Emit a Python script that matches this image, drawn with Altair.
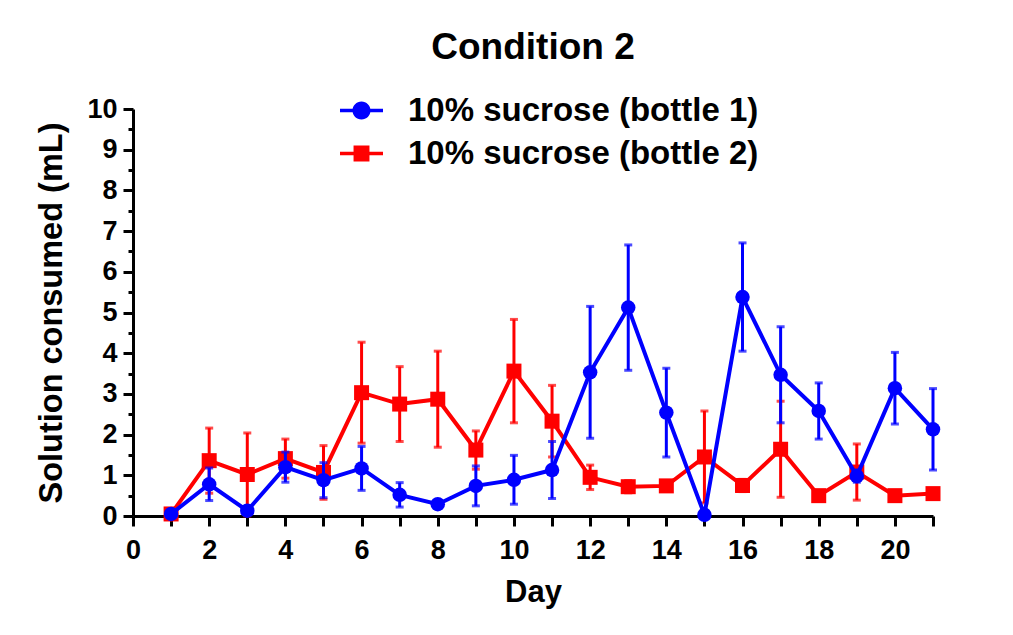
import altair as alt
import pandas as pd

days = list(range(1, 22))
series_names = ["10% sucrose (bottle 1)", "10% sucrose (bottle 2)"]
colors = ["#0000ff", "#ff0000"]

b1_mean = [0.05, 0.78, 0.13, 1.20, 0.88, 1.17, 0.52, 0.29, 0.74, 0.89, 1.13,
           3.53, 5.12, 2.54, 0.03, 5.38, 3.47, 2.58, 0.98, 3.14, 2.13]
b1_sem = [0.03, 0.40, 0.05, 0.37, 0.43, 0.54, 0.30, 0.05, 0.49, 0.60, 0.70,
          1.62, 1.54, 1.09, 0.02, 1.33, 1.18, 0.69, 0.15, 0.88, 1.00]
b2_mean = [0.05, 1.36, 1.02, 1.41, 1.07, 3.03, 2.75, 2.87, 1.62, 3.56, 2.33,
           0.95, 0.72, 0.74, 1.45, 0.75, 1.64, 0.50, 1.08, 0.50, 0.55]
b2_sem = [0.03, 0.80, 1.02, 0.48, 0.66, 1.24, 0.92, 1.18, 0.47, 1.27, 0.88,
          0.30, 0.15, 0.08, 1.13, 0.15, 1.18, 0.05, 0.69, 0.05, 0.06]

x_ticks = list(range(0, 22))
y_ticks = [i / 2 for i in range(0, 21)]

rows = []
for name, means, sems in [(series_names[0], b1_mean, b1_sem),
                          (series_names[1], b2_mean, b2_sem)]:
    for d, m, s in zip(days, means, sems):
        rows.append({"day": d, "mean": m, "lo": max(m - s, 0.0), "hi": m + s, "series": name})
df = pd.DataFrame(rows)

FONT = "Liberation Sans, Arial, Helvetica, sans-serif"

x_axis = alt.Axis(values=x_ticks, labelExpr="datum.value % 2 === 0 ? format(datum.value, 'd') : ''",
                  labelFont=FONT, labelFontSize=27, labelFontWeight="bold", labelColor="black",
                  labelPadding=11, labelFlush=False, labelOverlap=False,
                  tickSize=10, tickWidth=3, tickColor="black",
                  domainWidth=3, domainColor="black", grid=False,
                  titleFont=FONT, titleFontSize=31, titleFontWeight="bold", titleColor="black",
                  titlePadding=14)
y_axis = alt.Axis(values=y_ticks, labelExpr="datum.value % 1 === 0 ? format(datum.value, 'd') : ''",
                  labelFont=FONT, labelFontSize=27, labelFontWeight="bold", labelColor="black",
                  labelPadding=6, labelFlush=False, labelOverlap=False,
                  tickSize={"condition": {"test": "datum.value % 1 === 0", "value": 10}, "value": 5},
                  tickWidth=3, tickColor="black",
                  domainWidth=3, domainColor="black", grid=False,
                  titleFont=FONT, titleFontSize=32.5, titleFontWeight="bold", titleColor="black",
                  titlePadding=18)

X = alt.X("day:Q", scale=alt.Scale(domain=[0, 21], nice=False), axis=x_axis, title="Day")
Y = alt.Y("mean:Q", scale=alt.Scale(domain=[0, 10], nice=False), axis=y_axis,
          title="Solution consumed (mL)")
YLO = alt.Y("lo:Q", scale=alt.Scale(domain=[0, 10], nice=False), axis=y_axis,
            title="Solution consumed (mL)")
YHI = alt.Y("hi:Q", scale=alt.Scale(domain=[0, 10], nice=False), axis=y_axis,
            title="Solution consumed (mL)")

path_circle = ("M-1,-0.08H-0.41V0.08H-1Z M0.41,-0.08H1V0.08H0.41Z "
               "M0.42,0A0.42,0.42,0,1,1,-0.42,0A0.42,0.42,0,1,1,0.42,0Z")
path_square = ("M-1,-0.08H-0.36V0.08H-1Z M0.36,-0.08H1V0.08H0.36Z "
               "M-0.37,-0.37H0.37V0.37H-0.37Z")

leg = alt.Legend(orient="none", legendX=207, legendY=-20, title=None,
                 labelFont=FONT, labelFontSize=33, labelFontWeight="bold", labelColor="black",
                 labelLimit=600, labelOffset=25, symbolSize=1849, symbolStrokeWidth=0,
                 rowPadding=4, padding=0)

legend_layer = alt.Chart(df).transform_filter("false").mark_point(filled=True, opacity=1).encode(
    x=X, y=Y,
    color=alt.Color("series:N", scale=alt.Scale(domain=series_names, range=colors), legend=leg),
    shape=alt.Shape("series:N", scale=alt.Scale(domain=series_names, range=[path_circle, path_square]),
                    legend=leg),
)

def series_layers(name, color, shape, size):
    base = alt.Chart(df).transform_filter(alt.datum.series == name)
    err = base.mark_rule(color=color, strokeWidth=3).encode(x=X, y=YLO, y2="hi:Q")
    cap_hi = base.mark_tick(color=color, orient="horizontal", size=8, thickness=3).encode(x=X, y=YHI)
    cap_lo = base.mark_tick(color=color, orient="horizontal", size=8, thickness=3).encode(x=X, y=YLO)
    line = base.mark_line(color=color, strokeWidth=4).encode(x=X, y=Y)
    pts = base.mark_point(color=color, filled=True, opacity=1, shape=shape, size=size).encode(x=X, y=Y)
    return [err, cap_hi, cap_lo, line, pts]

layers = [legend_layer]
layers += series_layers(series_names[1], colors[1], "square", 225)
layers += series_layers(series_names[0], colors[0], "circle", 210)

chart = alt.layer(*layers).properties(
    width=800, height=407,
    padding={"left": 125, "top": 101, "right": 60, "bottom": 100},
    autosize=alt.AutoSizeParams(type="none"),
    title=alt.TitleParams("Condition 2", font=FONT, fontSize=37, fontWeight="bold", color="black",
                          anchor="middle", frame="group", orient="top", offset=22),
    background="white",
).configure_view(stroke=None)

chart.save("out.html", embed_options={"renderer": "svg", "actions": False})
